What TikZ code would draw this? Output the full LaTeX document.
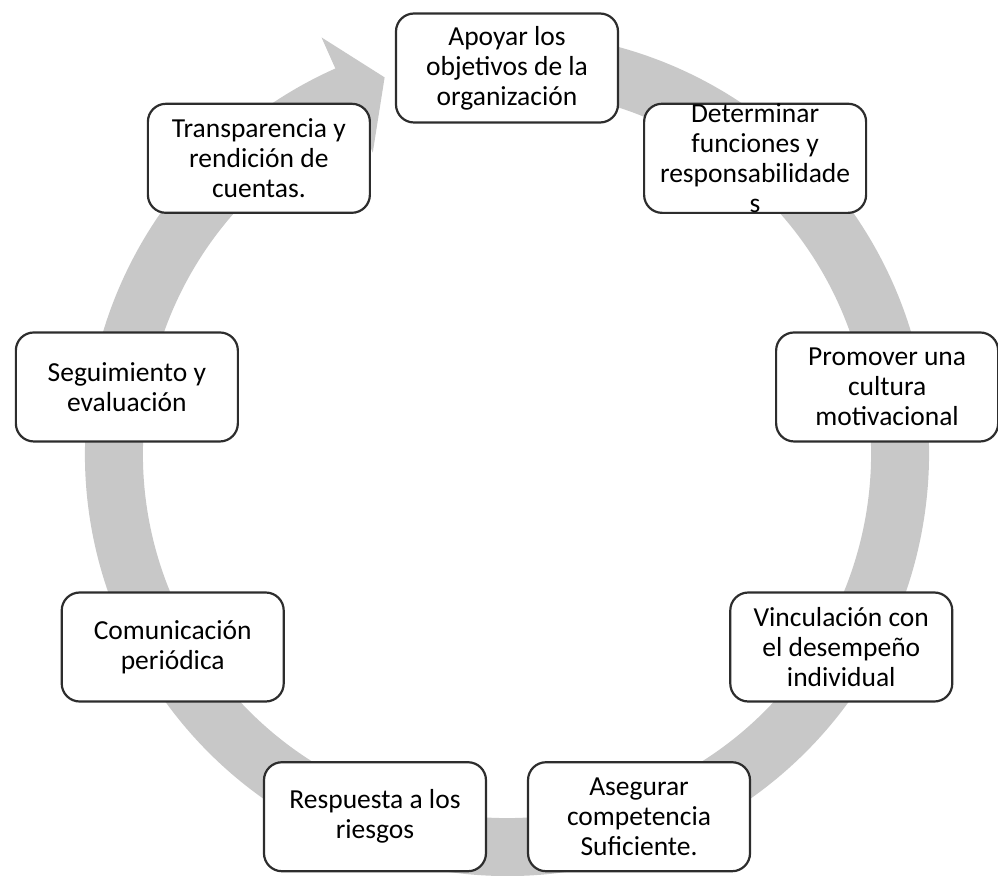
\documentclass[tikz,border=0pt]{standalone}
\usepackage{fontspec}
\setmainfont{Carlito}
\usepackage{tikz}
\definecolor{ringgray}{RGB}{200,200,200}
\definecolor{boxline}{RGB}{45,45,45}
\tikzset{
  stage/.style = {draw=boxline, line width=2.2pt, fill=white,
                  rounded corners=18pt, minimum width=222pt,
                  minimum height=109pt, inner sep=0pt, align=center,
                  font=\fontsize{27.5}{30}\selectfont},
  cyclering/.style = {fill=ringgray, draw=none}
}
\newcommand{\stagenode}[3]{
  \node[stage] (#1) at (#2:386) {#3};
}

\begin{document}
\begin{tikzpicture}[x=1pt,y=1pt]
  \useasboundingbox (-507,-421) rectangle (491,454);
  \fill[cyclering] (80:422) arc[start angle=80, end angle=-246, radius=422]
    -- (-246:456) -- (-252:396) -- (-246:330) -- (-246:364)
    arc[start angle=-246, end angle=80, radius=364] -- cycle;
  \stagenode{apoyar}{90}{Apoyar los\\objetivos de la\\organización}
  \stagenode{funciones}{50}{Determinar\\funciones y\\responsabilidade\\s}
  \stagenode{cultura}{10}{Promover una\\cultura\\motivacional}
  \stagenode{desempeno}{-30}{Vinculación con\\el desempeño\\individual}
  \stagenode{competencia}{-70}{Asegurar\\competencia\\Suficiente.}
  \stagenode{riesgos}{-110}{Respuesta a los\\riesgos}
  \stagenode{comunicacion}{-150}{Comunicación\\periódica}
  \stagenode{seguimiento}{-190}{Seguimiento y\\evaluación}
  \stagenode{transparencia}{-230}{Transparencia y\\rendición de\\cuentas.}
\end{tikzpicture}
\end{document}
